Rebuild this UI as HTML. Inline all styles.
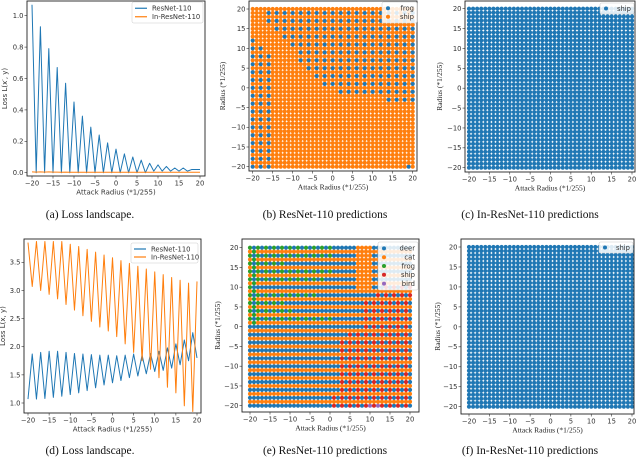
<!DOCTYPE html>
<html><head><meta charset="utf-8">
<style>
html,body{margin:0;padding:0;background:#fff;}
svg{display:block;}
.tk{font-family:"DejaVu Sans","Liberation Sans",sans-serif;font-size:6.8px;fill:#333;}
.lbs{font-family:"DejaVu Sans","Liberation Sans",sans-serif;font-size:7px;fill:#333;}
.lbr{font-family:"Liberation Serif",serif;font-size:7.5px;fill:#222;}
.cap{font-family:"Liberation Serif",serif;font-size:11.5px;fill:#111;}
</style></head>
<body>
<svg id="fig" width="640" height="459" viewBox="0 0 640 459" xmlns="http://www.w3.org/2000/svg"></svg>
<script>
// ---------- data ----------
const radii = [-20,-19,-18,-17,-16,-15,-14,-13,-12,-11,-10,-9,-8,-7,-6,-5,-4,-3,-2,-1,0,1,2,3,4,5,6,7,8,9,10,11,12,13,14,15,16,17,18,19,20];
const lossA_resnet = [1.07,0.0,0.93,0.0,0.79,0.0,0.67,0.0,0.57,0.0,0.45,0.0,0.36,0.0,0.29,0.0,0.24,0.0,0.19,0.0,0.15,0.0,0.12,0.0,0.10,0.0,0.08,0.0,0.06,0.01,0.05,0.01,0.04,0.01,0.03,0.01,0.03,0.01,0.02,0.02,0.02];
const lossA_inresnet = [0.005,0.004,0.005,0.004,0.005,0.004,0.004,0.003,0.004,0.003,0.003,0.003,0.003,0.003,0.003,0.003,0.003,0.003,0.003,0.003,0.003,0.003,0.003,0.003,0.003,0.003,0.003,0.003,0.003,0.003,0.003,0.003,0.003,0.003,0.003,0.003,0.003,0.003,0.003,0.003,0.003];
const ticksA_y = [0.0,0.2,0.4,0.6,0.8,1.0];
const lossD_resnet = [1.07,1.87,1.07,1.90,1.08,1.92,1.10,1.92,1.12,1.90,1.15,1.88,1.18,1.87,1.22,1.86,1.27,1.85,1.32,1.85,1.36,1.84,1.40,1.85,1.45,1.87,1.48,1.85,1.52,1.88,1.56,1.92,1.58,1.98,1.62,2.05,1.68,2.12,1.75,2.25,1.80];
const lossD_inresnet = [3.85,3.07,3.87,3.00,3.87,2.93,3.87,2.85,3.87,2.75,3.82,2.65,3.78,2.55,3.73,2.45,3.68,2.35,3.63,2.28,3.58,2.18,3.53,2.05,3.48,1.90,3.43,1.75,3.38,1.60,3.33,1.45,3.28,1.28,3.23,1.18,3.18,0.95,3.13,0.85,3.16];
const ticksD_y = [1.0,1.5,2.0,2.5,3.0,3.5];
const ticksX = [-20,-15,-10,-5,0,5,10,15,20];
const bLeftCols = [-20,-18,-16];
const bLeftTop = [12,10,8];
const bRightRows = [19,17,15,13,11,9,7,5,3,1,-1,-3];
const bRightStart = [-16,-16,-14,-12,-10,-8,-8,-6,-4,-2,2,14];
const bExtra = [[19,-20]];
const bClasses = ['frog','ship'];
const eClasses = ['deer','cat','frog','ship','bird'];
const eGreenRows = [20,18,16,14,12,10,8,6,4,2];
const eGreenEnd = [0,0,-12,0,-2,-19,-4,-12,-10,0];
const eRedRows = [10,8,6,4,2,0,-2,-4,-6,-8,-10,-12,-14,-16,-18,-20];
const eRedStart = [14,12,9,9,9,9,5,3,3,3,3,3,3,3,1,1];
const eBird = [[10,-20],[12,-20]];
const C = {blue:'#1f77b4',orange:'#ff7f0e',green:'#2ca02c',red:'#d62728',purple:'#9467bd'};

// ---------- helpers ----------
const NS='http://www.w3.org/2000/svg';
const svg=document.getElementById('fig');
function mk(tag,attrs,parent,text){const e=document.createElementNS(NS,tag);for(const k in attrs)e.setAttribute(k,attrs[k]);if(text!==undefined)e.textContent=text;(parent||svg).appendChild(e);return e;}
function lin(d0,d1,r0,r1){return v=>r0+(v-d0)*(r1-r0)/(d1-d0);}
function panel(name,box,sx,sy,yt,xt,fmt,serif,xlab,ylab,ylabX){
  const g=mk('g',{});
  
  
  const ax=mk('g',{},g);
  
  
  xt.forEach(v=>{const x=sx(v);mk('line',{x1:x,x2:x,y1:box[3],y2:box[3]+2.5,stroke:'#333','stroke-width':0.6},ax);
    const t=mk('text',{x:x,y:box[3]+9.5,'text-anchor':'middle',class:'tk'},ax,v<0?'\u2212'+(-v):String(v));
    });
  const ay=mk('g',{},g);
  
  
  yt.forEach(v=>{const y=sy(v);mk('line',{x1:box[0]-2.5,x2:box[0],y1:y,y2:y,stroke:'#333','stroke-width':0.6},ay);
    const s=fmt(v);const t=mk('text',{x:box[0]-3.5,y:y+2.4,'text-anchor':'end',class:'tk'},ay,s);
    });
  const xl=mk('text',{x:(box[0]+box[2])/2,y:box[3]+18.5,'text-anchor':'middle',class:serif?'lbr':'lbs'},g,xlab);
  
  const cy=(box[1]+box[3])/2;
  const yl=mk('text',{x:ylabX,y:cy,'text-anchor':'middle',class:serif?'lbr':'lbs',transform:`rotate(-90 ${ylabX} ${cy})`},g,ylab);
  
  return g;
}
function frame(g,box){const r=mk('rect',{x:box[0],y:box[1],width:box[2]-box[0],height:box[3]-box[1],fill:'none',stroke:'#222','stroke-width':0.9},g);
  }
function legend(g,box,entries,isLine){
  const lg=mk('g',{},g);
  
  
  mk('rect',{x:box[0],y:box[1],width:box[2],height:box[3],fill:'#fff','fill-opacity':0.85,stroke:'#ccc','stroke-width':0.5,rx:1.5},lg);
  const step=(box[3]-4)/entries.length;
  entries.forEach((e,i)=>{const y=box[1]+2+step*(i+0.5);
    const en=mk('g',{},lg);
    
    
    if(isLine){mk('line',{x1:box[0]+3,x2:box[0]+15,y1:y,y2:y,stroke:e[1],'stroke-width':1.2},en);
      mk('text',{x:box[0]+20,y:y+2.3,class:'tk'},en,e[0]);}
    else{mk('circle',{cx:box[0]+6,cy:y,r:2,fill:e[1]},en);
      mk('text',{x:box[0]+box[2]-3,y:y+2.3,'text-anchor':'end',class:'tk'},en,e[0]);}
  });
}
function series(g,xs,ys,sx,sy,color,name){const d=xs.map((x,i)=>(i?'L':'M')+sx(x).toFixed(2)+' '+sy(ys[i]).toFixed(2)).join(' ');
  const p=mk('path',{d:d,fill:'none',stroke:color,'stroke-width':1,'stroke-linejoin':'round'},g);
  }
function dots(g,cells,sx,sy,name){const dg=mk('g',{},g);
  
  cells.forEach(c=>{mk('circle',{cx:sx(c[0]).toFixed(2),cy:sy(c[1]).toFixed(2),r:2.1,fill:c[2]},dg);});}
function caption(x,y,t,name){const c=mk('text',{x:x,y:y,'text-anchor':'middle',class:'cap'},svg,t);
  }
const f1=v=>v.toFixed(1);
const fi=v=>v<0?'\u2212'+(-v):String(v);

{const box=[27,1,205,176];const sx=lin(-20,20,32,200),sy=lin(0,1,172.7,15.7);
 const g=panel('loss-landscape-a',box,sx,sy,ticksA_y,ticksX,f1,false,'Attack Radius (*1/255)','Loss L(x\u2032, y)',7);
 series(g,radii,lossA_resnet,sx,sy,C.blue,'resnet-110-line');
 series(g,radii,lossA_inresnet,sx,sy,C.orange,'in-resnet-110-line');
 frame(g,box);legend(g,[132,2,71,21],[['ResNet-110',C.blue],['In-ResNet-110',C.orange]],true);}
{const box=[24,239,201,413];const sx=lin(-20,20,28,197),sy=lin(1,3.5,403,262.3);
 const g=panel('loss-landscape-d',box,sx,sy,ticksD_y,ticksX,f1,false,'Attack Radius (*1/255)','Loss L(x, y)',5);
 series(g,radii,lossD_resnet,sx,sy,C.blue,'resnet-110-line');
 series(g,radii,lossD_inresnet,sx,sy,C.orange,'in-resnet-110-line');
 frame(g,box);legend(g,[131,243,67,20],[['ResNet-110',C.blue],['In-ResNet-110',C.orange]],true);}
{const box=[249,1,417,171];const sx=lin(-20,20,252.7,412.7),sy=lin(20,-20,9,166.7);
 const g=panel('resnet-110-predictions-b',box,sx,sy,ticksX.slice().reverse(),ticksX,fi,true,'Attack Radius (*1/255)','Radius (*1/255)',225);
 const cells=[];
 radii.forEach(y=>radii.forEach(x=>{let frog=false;
   const ci=bLeftCols.indexOf(x);if(ci>=0&&y%2===0&&y<=bLeftTop[ci])frog=true;
   const ri=bRightRows.indexOf(y);if(ri>=0&&x%2===0&&x>=bRightStart[ri])frog=true;
   bExtra.forEach(p=>{if(p[0]===x&&p[1]===y)frog=true;});
   cells.push([x,y,frog?C.blue:C.orange]);}));
 dots(g,cells,sx,sy,'prediction-points');
 frame(g,box);legend(g,[382,2,35,21],[['frog',C.blue],['ship',C.orange]],false);}
{const box=[465,1,635,172];const sx=lin(-20,20,469,632),sy=lin(20,-20,8.7,167.7);
 const g=panel('in-resnet-110-predictions-c',box,sx,sy,ticksX.slice().reverse(),ticksX,fi,true,'Attack Radius (*1/255)','Radius (*1/255)',442);
 const cells=[];radii.forEach(y=>radii.forEach(x=>cells.push([x,y,C.blue])));
 dots(g,cells,sx,sy,'prediction-points');
 frame(g,box);legend(g,[600,3,34,11],[['ship',C.blue]],false);}
{const box=[242,239,419,412];const sx=lin(-20,20,250,410),sy=lin(20,-20,247.7,405.7);
 const g=panel('resnet-110-predictions-e',box,sx,sy,ticksX.slice().reverse(),ticksX,fi,true,'Attack Radius (*1/255)','Radius (*1/255)',220);
 const cells=[];
 radii.forEach(y=>radii.forEach(x=>{let c=C.orange;
   if(y%2===0){c=C.blue;
     const gi=eGreenRows.indexOf(y);
     if(gi>=0){if(x<=eGreenEnd[gi]&&x%2===0)c=C.green; if(y>=10&&x>=7&&x<=10)c=C.orange;}
     const ri=eRedRows.indexOf(y);
     if(ri>=0&&x>=eRedStart[ri]&&(x-eRedStart[ri])%2===0)c=C.red;
     eBird.forEach(p=>{if(p[0]===x&&p[1]===y)c=C.purple;});
   } else if(x===-19&&y>=1){c=C.green;}
   cells.push([x,y,c]);}));
 dots(g,cells,sx,sy,'prediction-points');
 frame(g,box);legend(g,[378,242,40,48],[['deer',C.blue],['cat',C.orange],['frog',C.green],['ship',C.red],['bird',C.purple]],false);}
{const box=[461,239,634,414];const sx=lin(-20,20,469,632),sy=lin(20,-20,247,406.7);
 const g=panel('in-resnet-110-predictions-f',box,sx,sy,ticksX.slice().reverse(),ticksX,fi,true,'Attack Radius (*1/255)','Radius (*1/255)',440);
 const cells=[];radii.forEach(y=>radii.forEach(x=>cells.push([x,y,C.blue])));
 dots(g,cells,sx,sy,'prediction-points');
 frame(g,box);legend(g,[599,242,34,11],[['ship',C.blue]],false);}
caption(90,218,'(a) Loss landscape.','caption-a');
caption(325,218,'(b) ResNet-110 predictions','caption-b');
caption(530,218,'(c) In-ResNet-110 predictions','caption-c');
caption(90,454,'(d) Loss landscape.','caption-d');
caption(325,454,'(e) ResNet-110 predictions','caption-e');
caption(530,454,'(f) In-ResNet-110 predictions','caption-f');
</script>
</body></html>
